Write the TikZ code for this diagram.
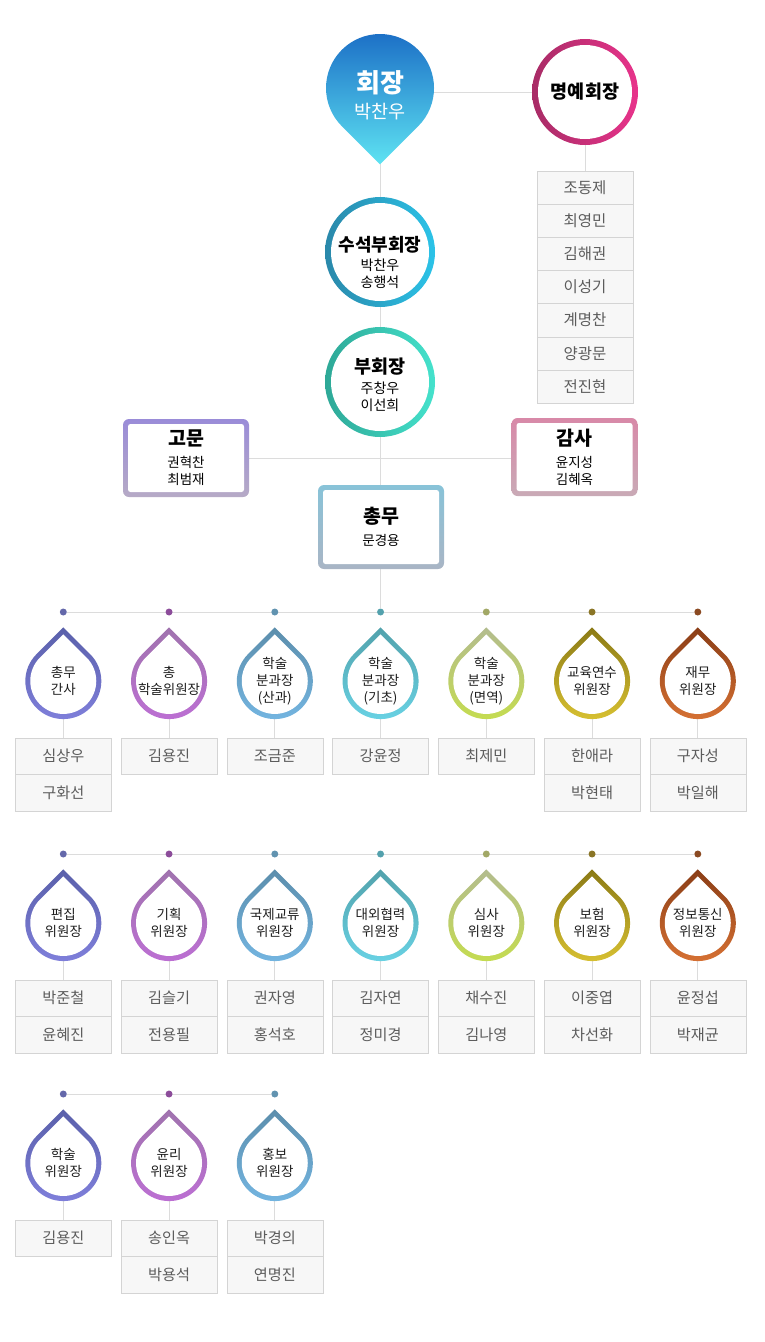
\documentclass[tikz,border=0pt]{standalone}
\usepackage{fontspec}
\setmainfont{Noto Sans CJK KR}
\usepackage{tikz}
\usetikzlibrary{positioning, backgrounds}

\definecolor{linegray}{HTML}{DCDCDC}
\definecolor{boxline}{HTML}{D4D4D4}
\definecolor{boxfill}{HTML}{F7F7F7}
\definecolor{namegray}{HTML}{5C5C5C}
\definecolor{labeldark}{HTML}{1E1E1E}
% top ranks
\definecolor{pintop}{HTML}{1A6CC5}
\definecolor{pinmid}{HTML}{3A9BE6}
\definecolor{pinbot}{HTML}{5EE3F2}
\definecolor{honA}{HTML}{A82C66}
\definecolor{honB}{HTML}{E8338B}
\definecolor{svpA}{HTML}{2A88AA}
\definecolor{svpB}{HTML}{2BC3E8}
\definecolor{vpA}{HTML}{2EA897}
\definecolor{vpB}{HTML}{45E2CC}
\definecolor{advA}{HTML}{9A8CD8}
\definecolor{advB}{HTML}{B6AAC6}
\definecolor{audA}{HTML}{D889A8}
\definecolor{audB}{HTML}{C9AAB6}
\definecolor{genA}{HTML}{88C3D8}
\definecolor{genB}{HTML}{A9B5C5}
% committee columns
\definecolor{dot1}{HTML}{6468AA}
\definecolor{drop1top}{HTML}{5A60AA}
\definecolor{drop1bot}{HTML}{8080DC}
\definecolor{dot2}{HTML}{8C4C9A}
\definecolor{drop2top}{HTML}{A073AE}
\definecolor{drop2bot}{HTML}{BD6FD4}
\definecolor{dot3}{HTML}{6193B0}
\definecolor{drop3top}{HTML}{5C8EAC}
\definecolor{drop3bot}{HTML}{74B6E2}
\definecolor{dot4}{HTML}{53A1AD}
\definecolor{drop4top}{HTML}{52A2AC}
\definecolor{drop4bot}{HTML}{69D3E5}
\definecolor{dot5}{HTML}{A2A866}
\definecolor{drop5top}{HTML}{B3BC8E}
\definecolor{drop5bot}{HTML}{C5DD4E}
\definecolor{dot6}{HTML}{8A7526}
\definecolor{drop6top}{HTML}{8B7A16}
\definecolor{drop6bot}{HTML}{D9C232}
\definecolor{dot7}{HTML}{8B4A22}
\definecolor{drop7top}{HTML}{8A3D16}
\definecolor{drop7bot}{HTML}{D87234}

\tikzset{
  link/.style={draw=linegray, line width=1pt},
  dot/.style={circle, minimum size=7pt, inner sep=0pt},
  ringnode/.style={circle, inner sep=0pt, minimum size=#1},
  rankbox/.style={rectangle, rounded corners=6pt, minimum width=126pt, minimum height=78pt,
    align=center, font=\fontsize{13.5}{17}\selectfont,
    path picture={\fill[white, rounded corners=2.5pt]
      ([shift={(5pt,5pt)}]path picture bounding box.south west) rectangle
      ([shift={(-5pt,-5pt)}]path picture bounding box.north east);}},
  droplabel/.style={circle, minimum size=76pt, inner sep=0pt, align=center,
    text=labeldark, font=\fontsize{13.5}{17}\selectfont},
  namebox/.style={draw=boxline, fill=boxfill, minimum width=96pt, minimum height=36.5pt,
    inner sep=0pt, outer sep=0pt, text=namegray, font=\fontsize{15.2}{17}\selectfont},
  listbox/.style={namebox, minimum height=33.15pt, font=\fontsize{15.5}{17}\selectfont}
}

% one row of committee drops: row id, dot line y, items
\newcommand{\committeerow}[3]{%
  \foreach \i/\lbl/\na/\nb in {#3}{
    \pgfmathsetmacro\cx{63.3+105.75*(\i-1)}
    \pgfmathsetmacro\cy{#2+69}
    \node[dot, fill=dot\i] (r#1d\i) at (\cx,#2) {};
    \shade[top color=drop\i top, bottom color=drop\i bot]
      (\cx,\cy-53.7) -- ++(26.9,26.9) arc[start angle=-45, end angle=225, radius=38] -- cycle;
    \fill[white]
      (\cx,\cy-46.7) -- ++(23.3,23.3) arc[start angle=-45, end angle=225, radius=33] -- cycle;
    \node[droplabel] (r#1c\i) at (\cx,\cy) {\lbl};
    \node[namebox, anchor=north] (r#1a\i) at (\cx,#2+126) {\na};
    \if\relax\detokenize\expandafter{\nb}\relax\else
      \node[namebox, below=0pt of r#1a\i] (r#1b\i) {\nb};
    \fi
    \begin{scope}[on background layer]
      \draw[link] (r#1c\i) -- (r#1a\i);
    \end{scope}
  }%
}

\begin{document}
\begin{tikzpicture}[x=1pt, y=-1pt]
  \useasboundingbox (0,0) rectangle (764,1342);

  % President pin
  \coordinate (chairtip) at (380,164.4);
  \coordinate (chairedge) at (433,92);
  \shade[top color=pintop, middle color=pinmid, bottom color=pinbot]
    (chairtip) -- ++(38.2,-38.2) arc[start angle=45, end angle=-225, radius=54] -- cycle;
  \node[align=center, text=white, font=\fontsize{18.5}{26}\selectfont] (chair) at (380,95)
    {{\fontsize{26}{26}\selectfont\bfseries 회장}\\박찬우};

  % Honorary president and list
  \node[ringnode=106pt, left color=honA, right color=honB,
    path picture={\fill[white] (path picture bounding box.center) circle[radius=47pt];},
    font=\fontsize{18.5}{20}\selectfont\bfseries] (hon) at (585,92) {명예회장};
  \foreach \nm [count=\k] in {조동제, 최영민, 김해권, 이성기, 계명찬, 양광문, 전진현}
    \node[listbox, anchor=north] (h\k) at (585,171+33.15*\k-33.15) {\nm};

  % Senior vice president
  \node[ringnode=110pt, left color=svpA, right color=svpB,
    path picture={\fill[white] (path picture bounding box.center) circle[radius=49pt];}]
    (svp) at (380,252) {};
  \node[align=center, font=\fontsize{14}{17}\selectfont] (svplbl) at (380,262)
    {{\fontsize{18}{17}\selectfont\bfseries 수석부회장}\\[2pt]박찬우\\송행석};

  % Vice president
  \node[ringnode=110pt, left color=vpA, right color=vpB,
    path picture={\fill[white] (path picture bounding box.center) circle[radius=49pt];}]
    (vp) at (380,382) {};
  \node[align=center, font=\fontsize{14}{17}\selectfont] (vplbl) at (380,385)
    {{\fontsize{18.5}{17}\selectfont\bfseries 부회장}\\[3pt]주창우\\이선희};

  % Advisors, auditors, secretary
  \node[rankbox, top color=advA, bottom color=advB] (adv) at (186,458)
    {{\fontsize{19.5}{17}\selectfont\bfseries 고문}\\[5pt]권혁찬\\최범재};
  \node[rankbox, top color=audA, bottom color=audB] (aud) at (574.5,457)
    {{\fontsize{19.5}{17}\selectfont\bfseries 감사}\\[5pt]윤지성\\김혜옥};
  \node[rankbox, top color=genA, bottom color=genB, minimum height=84pt] (gen) at (381,527)
    {{\fontsize{19.5}{17}\selectfont\bfseries 총무}\\[5pt]문경용};

  % Committees
  \committeerow{1}{612}{1/총무\\간사/심상우/구화선, 2/총\\학술위원장/김용진/,
    3/학술\\분과장\\(산과)/조금준/, 4/학술\\분과장\\(기초)/강윤정/,
    5/학술\\분과장\\(면역)/최제민/, 6/교육연수\\위원장/한애라/박현태,
    7/재무\\위원장/구자성/박일해}
  \committeerow{2}{854}{1/편집\\위원장/박준철/윤혜진, 2/기획\\위원장/김슬기/전용필,
    3/국제교류\\위원장/권자영/홍석호, 4/대외협력\\위원장/김자연/정미경,
    5/심사\\위원장/채수진/김나영, 6/보험\\위원장/이중엽/차선화,
    7/정보통신\\위원장/윤정섭/박재균}
  \committeerow{3}{1094}{1/학술\\위원장/김용진/, 2/윤리\\위원장/송인옥/박용석,
    3/홍보\\위원장/박경의/연명진}

  % Connectors
  \begin{scope}[on background layer]
    \draw[link] (hon.west) -- (chairedge);
    \draw[link] (hon.south) -- (h1.north);
    \draw[link] (chairtip) -- (svp.north);
    \draw[link] (svp.south) -- (vp.north);
    \draw[link] (vp.south) -- (vp.south |- gen.north);
    \draw[link] (adv.east) -- (adv.east -| aud.west);
    \draw[link] (r1d4 |- gen.south) -- (r1d4);
    \draw[link] (r1d1) -- (r1d7);
    \draw[link] (r2d1) -- (r2d7);
    \draw[link] (r3d1) -- (r3d3);
  \end{scope}
\end{tikzpicture}
\end{document}
